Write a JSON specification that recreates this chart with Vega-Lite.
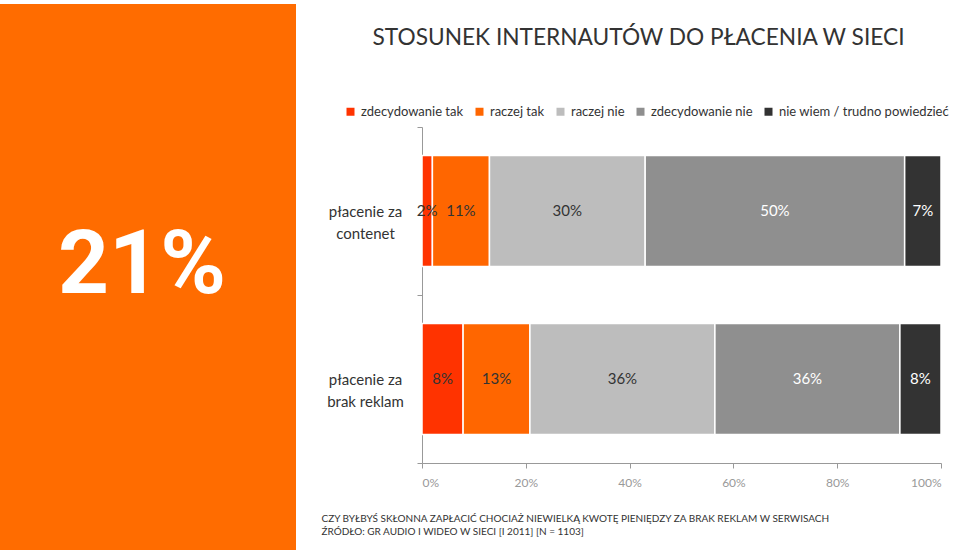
{
  "$schema": "https://vega.github.io/schema/vega-lite/v6.json",
  "padding": {"left": 0, "top": -3, "right": 0, "bottom": 0},
  "background": "white",
  "config": {"view": {"stroke": null}, "font": "Lato", "concat": {"spacing": 25}},
  "resolve": {"scale": {"color": "independent"}, "legend": {"color": "independent"}},
  "hconcat": [
    {
      "width": 296,
      "height": 546,
      "view": {"fill": "#FF6C00", "stroke": null},
      "data": {"values": [{"share": "21%"}]},
      "mark": {"type": "text", "fontSize": 89, "fontWeight": "bold", "color": "white", "font": "Roboto", "dx": -6, "dy": -11, "baseline": "middle", "align": "center"},
      "encoding": {"text": {"field": "share"}}
    },
    {
      "width": 519,
      "height": 459,
      "data": {"values": [
        {"question": "płacenie za contenet", "answer": "zdecydowanie tak", "rank": 1, "share": 0.02},
        {"question": "płacenie za contenet", "answer": "raczej tak", "rank": 2, "share": 0.11},
        {"question": "płacenie za contenet", "answer": "raczej nie", "rank": 3, "share": 0.30},
        {"question": "płacenie za contenet", "answer": "zdecydowanie nie", "rank": 4, "share": 0.50},
        {"question": "płacenie za contenet", "answer": "nie wiem / trudno powiedzieć", "rank": 5, "share": 0.07},
        {"question": "płacenie za brak reklam", "answer": "zdecydowanie tak", "rank": 1, "share": 0.08},
        {"question": "płacenie za brak reklam", "answer": "raczej tak", "rank": 2, "share": 0.13},
        {"question": "płacenie za brak reklam", "answer": "raczej nie", "rank": 3, "share": 0.36},
        {"question": "płacenie za brak reklam", "answer": "zdecydowanie nie", "rank": 4, "share": 0.36},
        {"question": "płacenie za brak reklam", "answer": "nie wiem / trudno powiedzieć", "rank": 5, "share": 0.08}
      ]},
      "transform": [
        {"stack": "share", "groupby": ["question"], "sort": [{"field": "rank"}], "offset": "normalize", "as": ["v0", "v1"]},
        {"calculate": "(datum.v0 + datum.v1) / 2", "as": "mid"}
      ],
      "encoding": {
        "y": {
          "field": "question", "type": "nominal",
          "sort": ["płacenie za contenet", "płacenie za brak reklam"],
          "scale": {"range": [123, 459], "paddingInner": 0, "paddingOuter": 0},
          "axis": {
            "title": "STOSUNEK INTERNAUTÓW DO PŁACENIA W SIECI",
            "titleAngle": 0, "titleX": 216, "titleY": 40, "titleAlign": "center", "titleBaseline": "alphabetic",
            "titleFontSize": 22.7, "titleFont": "Lato", "titleFontWeight": "normal", "titleColor": "#333333",
            "labelExpr": "[slice(datum.label, 0, 11), slice(datum.label, 12)]",
            "labelAlign": "center", "labelBaseline": "middle",
            "labelPadding": 52, "tickSize": 5, "tickBand": "extent",
            "domainColor": "#999999", "tickColor": "#999999",
            "labelFontSize": 15, "labelColor": "#333333", "labelLineHeight": 22,
            "labelFont": "Lato", "labelLimit": 200
          }
        }
      },
      "layer": [
        {
          "mark": {"type": "bar", "stroke": "white", "strokeWidth": 1.5, "height": {"band": 0.66}},
          "encoding": {
            "x": {
              "field": "v0", "type": "quantitative",
              "scale": {"domain": [0, 1]},
              "axis": {
                "values": [0, 0.2, 0.4, 0.6, 0.8, 1], "format": ".0%", "grid": false,
                "tickSize": 5, "labelColor": "#999999", "labelFontSize": 12, "labelPadding": 9,
                "domainColor": "#999999", "tickColor": "#999999", "labelFont": "Lato",
                "title": ["CZY BYŁBYŚ SKŁONNA ZAPŁACIĆ CHOCIAŻ NIEWIELKĄ KWOTĘ PIENIĘDZY ZA BRAK REKLAM W SERWISACH", "ŹRÓDŁO: GR AUDIO I WIDEO W SIECI [I 2011] [N = 1103]"],
                "titleX": -101, "titleY": 58, "titleAlign": "left", "titleBaseline": "alphabetic",
                "titleFontSize": 10, "titleFontWeight": "normal", "titleColor": "#333333",
                "titleLineHeight": 13, "titleFont": "Lato"
              }
            },
            "x2": {"field": "v1"},
            "color": {
              "field": "answer", "type": "nominal",
              "scale": {
                "domain": ["zdecydowanie tak", "raczej tak", "raczej nie", "zdecydowanie nie", "nie wiem / trudno powiedzieć"],
                "range": ["#FF3300", "#FF6600", "#BDBDBD", "#8F8F8F", "#333333"]
              },
              "legend": {
                "orient": "none", "legendX": -78, "legendY": 101, "direction": "horizontal",
                "title": null, "symbolType": "square", "symbolSize": 64, "symbolStrokeWidth": 0,
                "labelFontSize": 13, "labelColor": "#333333", "columnPadding": 9, "labelOffset": 4,
                "labelFont": "Lato", "labelLimit": 300
              }
            }
          }
        },
        {
          "mark": {"type": "text", "fontSize": 15, "font": "Lato", "baseline": "middle", "align": "center"},
          "encoding": {
            "x": {"field": "mid", "type": "quantitative"},
            "text": {"field": "share", "type": "quantitative", "format": ".0%"},
            "color": {
              "condition": {"test": "datum.rank >= 4", "value": "white"},
              "value": "#333333"
            }
          }
        }
      ]
    }
  ]
}
